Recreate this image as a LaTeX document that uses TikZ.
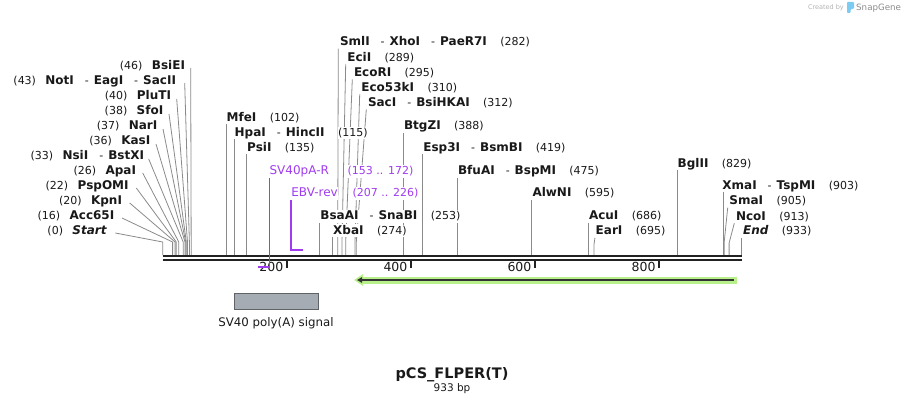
\documentclass[tikz,border=0pt]{standalone}
\usepackage{fontspec}
\setmainfont{DejaVu Sans}
\usetikzlibrary{positioning,backgrounds,arrows.meta}

\definecolor{cutgray}{HTML}{8A8A8A}
\definecolor{seqblack}{HTML}{222222}
\definecolor{primerpurple}{HTML}{A03CF0}
\definecolor{featgray}{HTML}{A6ACB4}
\definecolor{featedge}{HTML}{5F6368}
\definecolor{orfgreen}{HTML}{B8F08C}
\definecolor{orfdark}{HTML}{333333}
\definecolor{logoblue}{HTML}{7CCBF2}

\newcommand\enzsep{\hspace{11pt}{\mdseries\fontsize{11}{13}\selectfont -}\hspace{5pt}}

\tikzset{
  sitename/.style={fill=white, inner xsep=0.5pt, inner ysep=1pt, text height=9pt, text depth=2pt, font=\fontsize{12}{14}\selectfont\bfseries, text=black!90},
  sitepos/.style={fill=white, inner xsep=0.5pt, inner ysep=1pt, text height=8.5pt, text depth=2pt, font=\fontsize{11}{13}\selectfont, text=black!90},
  primername/.style={sitename, font=\fontsize{12}{14}\selectfont, text=primerpurple},
  primerpos/.style={sitepos, text=primerpurple},
  cutline/.style={draw=cutgray, line width=0.8pt},
  primer/.style={draw=primerpurple, line width=1.8pt},
  seqline/.style={draw=seqblack, line width=2pt},
  tickmark/.style={draw=seqblack, line width=1.6pt},
  ticklabel/.style={inner sep=0pt, font=\fontsize{12.5}{14}\selectfont, text=black!90},
  featbox/.style={draw=featedge, fill=featgray, line width=0.8pt, minimum width=84pt, minimum height=16pt, inner sep=0pt},
  featlabel/.style={inner sep=0pt, font=\fontsize{11.8}{14}\selectfont, text=black!90}
}

\begin{document}
\begin{tikzpicture}[x=1pt, y=-1pt]
    \useasboundingbox (0,0) rectangle (905,404);

    % cut sites on the sequence
    \coordinate (k0) at (162.7,255);
    \coordinate (k16) at (172.6,255);
    \coordinate (k20) at (175.1,255);
    \coordinate (k22) at (176.3,255);
    \coordinate (k26) at (178.8,255);
    \coordinate (k33) at (183.2,255);
    \coordinate (k36) at (185.0,255);
    \coordinate (k37) at (185.7,255);
    \coordinate (k38) at (186.3,255);
    \coordinate (k40) at (187.5,255);
    \coordinate (k43) at (189.4,255);
    \coordinate (k46) at (191.2,255);
    \coordinate (k102) at (226.0,255);
    \coordinate (k115) at (234.0,255);
    \coordinate (k135) at (246.5,255);
    \coordinate (k253) at (319.7,255);
    \coordinate (k274) at (332.7,255);
    \coordinate (k282) at (337.7,255);
    \coordinate (k289) at (342.0,255);
    \coordinate (k295) at (345.7,255);
    \coordinate (k310) at (355.0,255);
    \coordinate (k312) at (356.3,255);
    \coordinate (k388) at (403.4,255);
    \coordinate (k419) at (422.7,255);
    \coordinate (k475) at (457.4,255);
    \coordinate (k595) at (531.8,255);
    \coordinate (k686) at (588.3,255);
    \coordinate (k695) at (593.9,255);
    \coordinate (k829) at (677.0,255);
    \coordinate (k903) at (722.9,255);
    \coordinate (k905) at (724.2,255);
    \coordinate (k913) at (729.1,255);
    \coordinate (k933) at (741.5,255);

    % left-hand sites
    \node[sitename, anchor=base east] (bsiei) at (185.7,69.5) {BsiEI};
    \node[sitepos, left=8pt of bsiei.base west, anchor=base east] (bsiei-p) {(46)};
    \node[sitename, anchor=base east] (noti) at (176.7,84.5) {NotI\enzsep EagI\enzsep SacII};
    \node[sitepos, left=8pt of noti.base west, anchor=base east] (noti-p) {(43)};
    \node[sitename, anchor=base east] (pluti) at (171.7,99.5) {PluTI};
    \node[sitepos, left=8pt of pluti.base west, anchor=base east] (pluti-p) {(40)};
    \node[sitename, anchor=base east] (sfoi) at (164,114.5) {SfoI};
    \node[sitepos, left=8pt of sfoi.base west, anchor=base east] (sfoi-p) {(38)};
    \node[sitename, anchor=base east] (nari) at (158,129.5) {NarI};
    \node[sitepos, left=8pt of nari.base west, anchor=base east] (nari-p) {(37)};
    \node[sitename, anchor=base east] (kasi) at (151,144.5) {KasI};
    \node[sitepos, left=8pt of kasi.base west, anchor=base east] (kasi-p) {(36)};
    \node[sitename, anchor=base east] (nsii) at (144.7,159.5) {NsiI\enzsep BstXI};
    \node[sitepos, left=8pt of nsii.base west, anchor=base east] (nsii-p) {(33)};
    \node[sitename, anchor=base east] (apai) at (136.7,174.5) {ApaI};
    \node[sitepos, left=8pt of apai.base west, anchor=base east] (apai-p) {(26)};
    \node[sitename, anchor=base east] (pspomi) at (129.3,189.5) {PspOMI};
    \node[sitepos, left=8pt of pspomi.base west, anchor=base east] (pspomi-p) {(22)};
    \node[sitename, anchor=base east] (kpni) at (122.7,204.5) {KpnI};
    \node[sitepos, left=8pt of kpni.base west, anchor=base east] (kpni-p) {(20)};
    \node[sitename, anchor=base east] (acc) at (115,219.5) {Acc65I};
    \node[sitepos, left=8pt of acc.base west, anchor=base east] (acc-p) {(16)};
    \node[sitename, anchor=base east] (start) at (107.3,234.5) {\itshape Start};
    \node[sitepos, left=8pt of start.base west, anchor=base east] (start-p) {(0)};

    % sites labelled to the right
    \node[sitename, anchor=base west] (mfei) at (226,121.2) {MfeI};
    \node[sitepos, right=12pt of mfei.base east, anchor=base west] (mfei-p) {(102)};
    \node[sitename, anchor=base west] (hpai) at (234,136.2) {HpaI\enzsep HincII};
    \node[sitepos, right=12pt of hpai.base east, anchor=base west] (hpai-p) {(115)};
    \node[sitename, anchor=base west] (psii) at (246.5,151.2) {PsiI};
    \node[sitepos, right=12pt of psii.base east, anchor=base west] (psii-p) {(135)};
    \node[sitename, anchor=base west] (smli) at (339.3,45.5) {SmlI\enzsep XhoI\enzsep PaeR7I};
    \node[sitepos, right=12pt of smli.base east, anchor=base west] (smli-p) {(282)};
    \node[sitename, anchor=base west] (ecii) at (346.7,61.2) {EciI};
    \node[sitepos, right=12pt of ecii.base east, anchor=base west] (ecii-p) {(289)};
    \node[sitename, anchor=base west] (ecori) at (353.3,76.2) {EcoRI};
    \node[sitepos, right=12pt of ecori.base east, anchor=base west] (ecori-p) {(295)};
    \node[sitename, anchor=base west] (eco53) at (360.7,91.2) {Eco53kI};
    \node[sitepos, right=12pt of eco53.base east, anchor=base west] (eco53-p) {(310)};
    \node[sitename, anchor=base west] (saci) at (367.3,106.2) {SacI\enzsep BsiHKAI};
    \node[sitepos, right=12pt of saci.base east, anchor=base west] (saci-p) {(312)};
    \node[sitename, anchor=base west] (btgzi) at (403.4,129.5) {BtgZI};
    \node[sitepos, right=12pt of btgzi.base east, anchor=base west] (btgzi-p) {(388)};
    \node[sitename, anchor=base west] (esp3i) at (422.7,151.2) {Esp3I\enzsep BsmBI};
    \node[sitepos, right=12pt of esp3i.base east, anchor=base west] (esp3i-p) {(419)};
    \node[sitename, anchor=base west] (bfuai) at (457.4,174.5) {BfuAI\enzsep BspMI};
    \node[sitepos, right=12pt of bfuai.base east, anchor=base west] (bfuai-p) {(475)};
    \node[sitename, anchor=base west] (alwni) at (531.8,196.5) {AlwNI};
    \node[sitepos, right=12pt of alwni.base east, anchor=base west] (alwni-p) {(595)};
    \node[sitename, anchor=base west] (acui) at (588.3,219.5) {AcuI};
    \node[sitepos, right=12pt of acui.base east, anchor=base west] (acui-p) {(686)};
    \node[sitename, anchor=base west] (eari) at (595,234.5) {EarI};
    \node[sitepos, right=12pt of eari.base east, anchor=base west] (eari-p) {(695)};
    \node[sitename, anchor=base west] (bsaai) at (319.7,219.5) {BsaAI\enzsep SnaBI};
    \node[sitepos, right=12pt of bsaai.base east, anchor=base west] (bsaai-p) {(253)};
    \node[sitename, anchor=base west] (xbai) at (332.5,234) {XbaI};
    \node[sitepos, right=12pt of xbai.base east, anchor=base west] (xbai-p) {(274)};
    \node[sitename, anchor=base west] (bglii) at (677,167) {BglII};
    \node[sitepos, right=12pt of bglii.base east, anchor=base west] (bglii-p) {(829)};
    \node[sitename, anchor=base west] (xmai) at (721.7,189) {XmaI\enzsep TspMI};
    \node[sitepos, right=12pt of xmai.base east, anchor=base west] (xmai-p) {(903)};
    \node[sitename, anchor=base west] (smai) at (728.7,204.5) {SmaI};
    \node[sitepos, right=12pt of smai.base east, anchor=base west] (smai-p) {(905)};
    \node[sitename, anchor=base west] (ncoi) at (735.3,220) {NcoI};
    \node[sitepos, right=12pt of ncoi.base east, anchor=base west] (ncoi-p) {(913)};
    \node[sitename, anchor=base west] (endsite) at (742.5,234.5) {\itshape End};
    \node[sitepos, right=12pt of endsite.base east, anchor=base west] (endsite-p) {(933)};

    % primers
    \node[primername, anchor=base west] (sv40r) at (268.9,174.5) {SV40pA-R};
    \node[primerpos, anchor=base west] (sv40r-p) at (347,174.5) {(153 .. 172)};
    \node[primername, anchor=base west] (ebv) at (290.6,196.5) {EBV-rev};
    \node[primerpos, anchor=base west] (ebv-p) at (352,196.5) {(207 .. 226)};
    \coordinate (p153) at (257.6,267);
    \coordinate (p172) at (269.4,267);
    \coordinate (p207) at (291.1,250);
    \coordinate (p226) at (302.9,250);

    % lines from sites to labels
    \begin{scope}[on background layer]
    \draw[cutline] (k0) -- ++(0,-13) -- ([shift={(8,2)}]start.east);
    \draw[cutline] (k16) -- ++(0,-13) -- ([shift={(7,2)}]acc.east);
    \draw[cutline] (k20) -- ++(0,-13) -- ([shift={(7,2)}]kpni.east);
    \draw[cutline] (k22) -- ++(0,-13) -- ([shift={(7,2)}]pspomi.east);
    \draw[cutline] (k26) -- ++(0,-13) -- ([shift={(6,2)}]apai.east);
    \draw[cutline] (k33) -- ++(0,-13) -- ([shift={(4,3)}]nsii.east);
    \draw[cutline] (k36) -- ++(0,-13) -- ([shift={(5,3)}]kasi.east);
    \draw[cutline] (k37) -- ++(0,-13) -- ([shift={(5,3)}]nari.east);
    \draw[cutline] (k38) -- ++(0,-13) -- ([shift={(5,3)}]sfoi.east);
    \draw[cutline] (k40) -- ++(0,-13) -- ([shift={(5,3)}]pluti.east);
    \draw[cutline] (k43) -- ++(0,-13) -- ([shift={(8,2)}]noti.east);
    \draw[cutline] (k46) -- ([shift={(5,2)}]bsiei.east);
    \draw[cutline] (k102) -- (k102 |- mfei.south);
    \draw[cutline] (k115) -- (k115 |- hpai.south);
    \draw[cutline] (k135) -- (k135 |- psii.south);
    \draw[cutline] (k253) -- (k253 |- bsaai.south);
    \draw[cutline] (k274) -- (k274 |- xbai.south);
    \draw[cutline] (k282) -- ++(0,-13) -- ([xshift=-1pt]smli.south west);
    \draw[cutline] (k289) -- ++(0,-13) -- ([xshift=-1pt]ecii.south west);
    \draw[cutline] (k295) -- ++(0,-13) -- ([xshift=-1pt]ecori.south west);
    \draw[cutline] (k310) -- ++(0,-13) -- ([xshift=-1pt]eco53.south west);
    \draw[cutline] (k312) -- ++(0,-13) -- ([xshift=-1pt]saci.south west);
    \draw[cutline] (k388) -- (k388 |- btgzi.south);
    \draw[cutline] (k419) -- (k419 |- esp3i.south);
    \draw[cutline] (k475) -- (k475 |- bfuai.south);
    \draw[cutline] (k595) -- (k595 |- alwni.south);
    \draw[cutline] (k686) -- (k686 |- acui.south);
    \draw[cutline] (k695) -- ++(0,-10) -- (eari.south west);
    \draw[cutline] (k829) -- (k829 |- bglii.south);
    \draw[cutline] (k903) -- (k903 |- xmai.south);
    \draw[cutline] (k905) -- ++(0,-13) -- ([xshift=-1pt]smai.south west);
    \draw[cutline] (k913) -- ++(0,-12) -- ([xshift=-1pt]ncoi.south west);
    \draw[cutline] (k933) -- (k933 |- endsite.south);
    \end{scope}

    % sequence and ruler
    \coordinate (seq-a) at (162.7,256);
    \coordinate (seq-b) at (741.5,256);
    \draw[seqline] (seq-a) -- (seq-b);
    \draw[seqline] ([yshift=-4pt]seq-a) -- ([yshift=-4pt]seq-b);
    \coordinate (t200) at (286.8,261);
    \coordinate (t400) at (410.9,261);
    \coordinate (t600) at (534.9,261);
    \coordinate (t800) at (659.0,261);
    \draw[tickmark] (t200) -- ++(0,7);
    \draw[tickmark] (t400) -- ++(0,7);
    \draw[tickmark] (t600) -- ++(0,7);
    \draw[tickmark] (t800) -- ++(0,7);
    \node[ticklabel, anchor=base east] (l200) at (283.5,271.5) {200};
    \node[ticklabel, anchor=base east] (l400) at (407.6,271.5) {400};
    \node[ticklabel, anchor=base east] (l600) at (531.6,271.5) {600};
    \node[ticklabel, anchor=base east] (l800) at (655.7,271.5) {800};

    % primer arms
    \draw[primer] (p153) -- (p172) -- (p172 |- sv40r.south);
    \draw[primer] (p226) -- (p207) -- (p207 |- ebv.south);

    % ORF arrow
    \fill[orfgreen] (361,276.5) rectangle (737,283.5);
    \fill[orfgreen] (354,280) -- (363,274) -- (363,286) -- cycle;
    \draw[orfdark, line width=2pt, -{Triangle[length=5pt,width=5.5pt]}] (734,280) -- (357,280);

    % feature
    \node[featbox] (polya) at (276,301) {};
    \node[featlabel, anchor=base] (polya-l) at (276,326.5) {SV40 poly(A) signal};

    % title
    \node[inner sep=0pt, anchor=base, font=\fontsize{14.5}{17}\selectfont\bfseries, text=black!90] (title) at (452,378.3) {pCS\_FLPER(T)};
    \node[inner sep=0pt, anchor=base, font=\fontsize{10.5}{12}\selectfont, text=black!90] (size) at (452,391.8) {933 bp};

    % credit
    \node[inner sep=0pt, anchor=base east, font=\fontsize{6.5}{8}\selectfont, text=black!30] (credit) at (844,9.8) {Created by};
    \fill[logoblue, rounded corners=0.8pt] (847,2) -- (854,2) -- (854,8.5) -- (850.5,9.5) -- (850.5,13) -- (847,13) -- cycle;
    \node[inner sep=0pt, anchor=base west, font=\fontsize{8.7}{10}\selectfont, text=black!45] (snapgene) at (856,10.3) {SnapGene};

\end{tikzpicture}
\end{document}
